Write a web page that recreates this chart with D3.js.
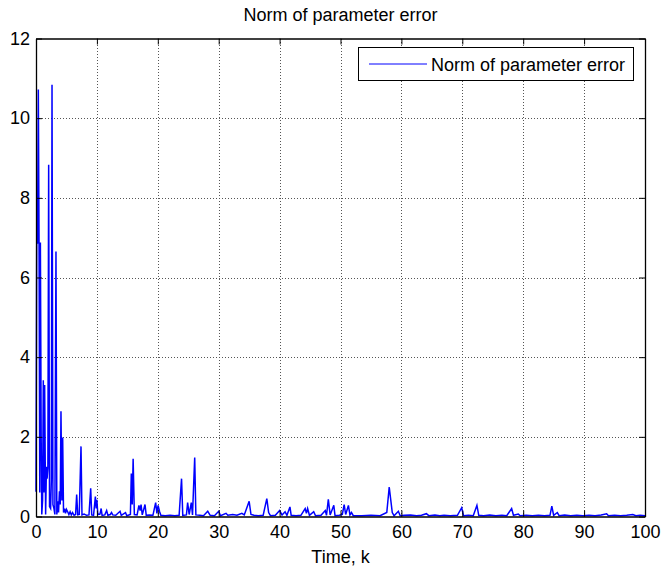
<!DOCTYPE html>
<html>
<head>
<meta charset="utf-8">
<script src="https://cdn.jsdelivr.net/npm/d3@7"></script>
<style>
  html, body { margin: 0; padding: 0; background: #fff; }
  svg { display: block; }
  text { font-family: "Liberation Sans", Arial, Helvetica, sans-serif; }
</style>
</head>
<body>
<svg id="chart" width="662" height="569"></svg>
<script>
// ---------------- data ----------------
const chartTitle = "Norm of parameter error";
const xLabel = "Time, k";
const seriesName = "Norm of parameter error";
const xTicks = [0, 10, 20, 30, 40, 50, 60, 70, 80, 90, 100];
const yTicks = [0, 2, 4, 6, 8, 10, 12];

const timeK = [
  0, 0.12, 0.25, 0.38, 0.5, 0.62, 0.72, 0.85, 0.95, 1.08, 1.2, 1.3, 1.42, 1.58, 1.72, 1.82, 1.95,
  2.08, 2.22, 2.4, 2.52, 2.63, 2.78, 2.95, 3.1, 3.28, 3.42, 3.58, 3.7, 3.85, 3.98, 4.1, 4.25, 4.38,
  4.52, 4.7, 4.85, 5.0, 5.2, 5.4, 5.6, 5.8, 6.0, 6.25, 6.5, 6.68, 6.85, 7.1, 7.39, 7.55, 7.9, 8.3,
  8.7, 8.98, 9.15, 9.45, 9.75, 9.88, 10.0, 10.15, 10.5, 10.7, 10.85, 11.3, 11.6, 11.8, 12.2, 12.4,
  12.6, 13.1, 13.8, 14.0, 14.7, 14.9, 15.5, 15.65, 15.8, 15.95, 16.15, 16.6, 16.9, 17.1, 17.25,
  17.45, 17.9, 18.1, 18.6, 19.2, 19.65, 19.85, 20.05, 20.3, 20.5, 21.2, 22.0, 22.8, 23.5, 23.9,
  24.1, 24.7, 24.9, 25.15, 25.5, 25.7, 26.06, 26.25, 26.9, 27.5, 28.2, 28.6, 29.3, 30.0, 30.3,
  31.2, 31.5, 32.3, 33.0, 33.8, 34.2, 35.0, 35.3, 35.8, 36.5, 37.3, 37.9, 38.2, 38.5, 39.3, 40.0,
  40.4, 40.9, 41.2, 41.7, 41.9, 42.7, 43.5, 44.2, 44.4, 44.6, 44.9, 45.6, 45.9, 46.8, 47.5, 47.7,
  48.0, 48.3, 48.9, 49.1, 49.8, 50.3, 50.6, 50.85, 51.3, 51.55, 51.8, 52.1, 53.5, 55.0, 56.5, 57.6,
  58.0, 58.5, 58.8, 59.5, 59.8, 60.5, 61.5, 62.5, 63.3, 64.1, 64.5, 65.5, 66.3, 67.0, 68.0, 69.2,
  69.9, 70.2, 71.0, 71.8, 72.4, 72.7, 73.5, 74.5, 75.5, 76.5, 77.3, 78.1, 78.4, 79.2, 79.5, 80.5,
  81.5, 82.5, 83.5, 84.4, 84.7, 85.0, 85.6, 85.9, 86.8, 87.8, 88.8, 89.8, 90.8, 91.8, 92.8, 93.7,
  94.0, 95.0, 96.0, 97.0, 98.0, 98.5, 99.2, 100
];
const normError = [
  0.62, 6.9, 6.85, 10.72, 6.9, 0.6, 6.88, 2.0, 0.05, 0.4, 3.42, 0.6, 3.3, 0.05, 1.25, 0.95, 1.22,
  8.83, 0.25, 0.2, 0.9, 10.84, 0.3, 0.2, 0.05, 6.65, 0.05, 0.38, 0.1, 0.63, 0.3, 2.64, 0.4, 1.98,
  0.1, 0.2, 0.08, 0.18, 0.12, 0.05, 0.12, 0.04, 0.1, 0.03, 0.05, 0.55, 0.04, 0.05, 1.76, 0.04, 0.06, 0.03,
  0.04, 0.71, 0.04, 0.03, 0.5, 0.2, 0.42, 0.05, 0.06, 0.2, 0.03, 0.04, 0.15, 0.03, 0.05, 0.1,
  0.04, 0.03, 0.13, 0.03, 0.1, 0.02, 0.05, 1.08, 0.3, 1.45, 0.05, 0.04, 0.28, 0.15, 0.3,
  0.04, 0.3, 0.03, 0.04, 0.03, 0.35, 0.08, 0.28, 0.12, 0.03, 0.02, 0.03, 0.02, 0.03, 0.95,
  0.03, 0.04, 0.35, 0.05, 0.35, 0.04, 1.48, 0.04, 0.03, 0.02, 0.13, 0.03, 0.02, 0.13, 0.02,
  0.08, 0.03, 0.05, 0.03, 0.08, 0.04, 0.38, 0.05, 0.03, 0.02, 0.03, 0.45, 0.1, 0.02, 0.03, 0.15,
  0.04, 0.12, 0.03, 0.24, 0.03, 0.02, 0.03, 0.2, 0.08, 0.2, 0.03, 0.12, 0.02, 0.03, 0.15, 0.03,
  0.43, 0.04, 0.28, 0.02, 0.03, 0.05, 0.3, 0.05, 0.28, 0.04, 0.1, 0.02, 0.02, 0.03, 0.02, 0.1,
  0.74, 0.1, 0.02, 0.13, 0.02, 0.03, 0.04, 0.02, 0.03, 0.07, 0.02, 0.04, 0.02, 0.03, 0.02, 0.03,
  0.22, 0.02, 0.03, 0.02, 0.28, 0.03, 0.02, 0.04, 0.02, 0.03, 0.02, 0.2, 0.03, 0.06, 0.02, 0.03,
  0.02, 0.03, 0.02, 0.03, 0.26, 0.03, 0.1, 0.02, 0.04, 0.02, 0.03, 0.02, 0.03, 0.02, 0.04, 0.07,
  0.02, 0.03, 0.02, 0.03, 0.05, 0.02, 0.03, 0.02
];

// ---------------- layout ----------------
const W = 662, H = 569;
const mLeft = 36, mRight = 645, mTop = 38.5, mBottom = 516.5;
const FS = 18;

const svg = d3.select("#chart");
svg.append("rect").attr("width", W).attr("height", H).attr("fill", "#fff");

const x = d3.scaleLinear().domain([0, 100]).range([mLeft, mRight]);
const y = d3.scaleLinear().domain([0, 12]).range([mBottom, mTop]);

// grid
const gridX = svg.append("g").attr("transform", `translate(0,${mBottom})`)
  .call(d3.axisBottom(x).tickValues(xTicks.slice(1, -1)).tickSize(-(mBottom - mTop)).tickFormat(""));
const gridY = svg.append("g").attr("transform", `translate(${mLeft},0)`)
  .call(d3.axisLeft(y).tickValues(yTicks.slice(1, -1)).tickSize(-(mRight - mLeft)).tickFormat(""));
[gridX, gridY].forEach(g => {
  g.select(".domain").remove();
  g.selectAll("line").attr("stroke", "#555").attr("stroke-width", 1).attr("stroke-dasharray", "1,2")
    .attr("shape-rendering", "crispEdges");
});

// line
const line = d3.line().x((d, i) => x(timeK[i])).y(d => y(d));
svg.append("path").datum(normError)
  .attr("d", line)
  .attr("fill", "none")
  .attr("stroke", "#0000ff")
  .attr("stroke-width", 1.5)
  .attr("stroke-linejoin", "miter");

// axes
function styleAxis(g) {
  g.select(".domain").attr("stroke", "#000").attr("stroke-width", 1.3);
  g.selectAll(".tick line").attr("stroke", "#000").attr("stroke-width", 1);
  g.selectAll("text").attr("font-size", FS).attr("fill", "#000")
    .attr("font-family", '"Liberation Sans", Arial, Helvetica, sans-serif');
}
const axB = svg.append("g").attr("transform", `translate(0,${mBottom})`)
  .call(d3.axisBottom(x).tickValues(xTicks).tickSizeInner(-6).tickSizeOuter(0).tickPadding(9));
styleAxis(axB);
const axT = svg.append("g").attr("transform", `translate(0,${mTop})`)
  .call(d3.axisTop(x).tickValues(xTicks).tickSizeInner(-6).tickSizeOuter(0).tickFormat(""));
styleAxis(axT);
const axL = svg.append("g").attr("transform", `translate(${mLeft},0)`)
  .call(d3.axisLeft(y).tickValues(yTicks).tickSizeInner(-6).tickSizeOuter(0).tickPadding(6));
styleAxis(axL);
const axR = svg.append("g").attr("transform", `translate(${mRight},0)`)
  .call(d3.axisRight(y).tickValues(yTicks).tickSizeInner(-6).tickSizeOuter(0).tickFormat(""));
styleAxis(axR);

// title & label
svg.append("text").attr("x", (mLeft + mRight) / 2).attr("y", 21)
  .attr("text-anchor", "middle").attr("font-size", FS).attr("fill", "#000").text(chartTitle);
svg.append("text").attr("x", (mLeft + mRight) / 2).attr("y", 563)
  .attr("text-anchor", "middle").attr("font-size", FS).attr("fill", "#000").text(xLabel);

// legend
const lg = svg.append("g");
lg.append("rect").attr("x", 358.5).attr("y", 47.5).attr("width", 275).attr("height", 33)
  .attr("fill", "#fff").attr("stroke", "#000").attr("stroke-width", 1);
lg.append("line").attr("x1", 369).attr("x2", 427).attr("y1", 64).attr("y2", 64)
  .attr("stroke", "#0000ff").attr("stroke-width", 1);
lg.append("text").attr("x", 431).attr("y", 70.5).attr("font-size", FS).attr("fill", "#000").text(seriesName);
</script>
</body>
</html>
